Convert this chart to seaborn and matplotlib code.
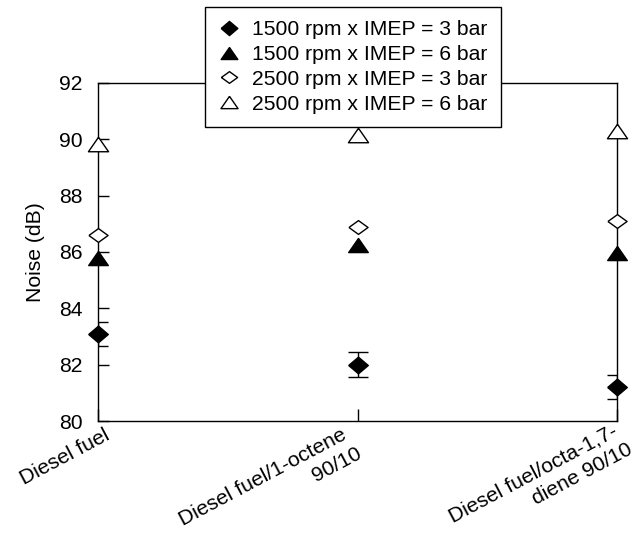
import numpy as np
import pandas as pd
import matplotlib
matplotlib.use("Agg")
import matplotlib.pyplot as plt
import seaborn as sns
from matplotlib.lines import Line2D

# ---- data ----
categories = ["Diesel fuel", "Diesel fuel/1-octene\n90/10", "Diesel fuel/octa-1,7-\ndiene 90/10"]
series_names = ["1500 rpm x IMEP = 3 bar", "1500 rpm x IMEP = 6 bar",
                "2500 rpm x IMEP = 3 bar", "2500 rpm x IMEP = 6 bar"]
noise_1500_3 = [83.1, 82.0, 81.2]
noise_1500_6 = [85.8, 86.25, 85.95]
noise_2500_3 = [86.6, 86.9, 87.1]
noise_2500_6 = [89.85, 90.15, 90.3]
err_1500_3 = [0.43, 0.44, 0.42]
yticks = [80, 82, 84, 86, 88, 90, 92]

FS = 15.2

sns.set_theme(style="white")
plt.rcParams['font.family'] = ['Liberation Sans', 'DejaVu Sans']
plt.rcParams['text.color'] = 'black'
plt.rcParams['axes.labelcolor'] = 'black'
plt.rcParams['xtick.color'] = 'black'
plt.rcParams['ytick.color'] = 'black'

fig = plt.figure(figsize=(6.43, 5.34), dpi=100)
ax = fig.add_axes([0.1524, 0.2116, 0.8072, 0.6330])

x = np.arange(len(categories))
df = pd.DataFrame({
    "x": np.tile(x, 4),
    "noise": noise_1500_3 + noise_1500_6 + noise_2500_3 + noise_2500_6,
    "series": np.repeat(series_names, len(categories)),
})

diamond_f = [(-1, 0), (0, 0.85), (1, 0), (0, -0.85), (-1, 0)]
diamond_o = [(-1, 0), (0, 0.72), (1, 0), (0, -0.72), (-1, 0)]
tri = [(0, 0.72), (-1, -0.72), (1, -0.72), (0, 0.72)]
styles = {
    series_names[0]: dict(marker=diamond_f, fc="black", s=200),
    series_names[1]: dict(marker=tri, fc="black", s=200),
    series_names[2]: dict(marker=diamond_o, fc="white", s=190),
    series_names[3]: dict(marker=tri, fc="white", s=210),
}

ax.errorbar(x, noise_1500_3, yerr=err_1500_3, fmt="none", ecolor="black",
            elinewidth=1.0, capsize=7, capthick=1.0, zorder=2)

for name in series_names:
    st = styles[name]
    sub = df[df["series"] == name]
    sns.scatterplot(data=sub, x="x", y="noise", ax=ax, marker=st["marker"],
                    s=st["s"], color=st["fc"], edgecolor="black", linewidth=1.0,
                    zorder=3, clip_on=False, legend=False)

ax.set_xlim(0, 2)
ax.set_ylim(80, 92)
ax.set_yticks(yticks)
ax.set_yticklabels([str(t) for t in yticks])
ax.set_xticks(x)
ax.set_xticklabels([])
# category labels placed individually (offsets in pixels) to match the reference
label_offsets_px = [(6, -5), (-17, -4), (-5, 0)]
line_step_px = (15, -19)   # shift of each following line (right, down)
for i, (cat, (dx, dy)) in enumerate(zip(categories, label_offsets_px)):
    for k, line in enumerate(cat.split("\n")):
        ox = dx + k * line_step_px[0]
        oy = dy + k * line_step_px[1]
        ax.annotate(line, xy=(x[i], 0), xycoords=ax.get_xaxis_transform(),
                    xytext=(ox * 0.72, oy * 0.72), textcoords="offset points",
                    rotation=28, rotation_mode="anchor", ha="right", va="top",
                    fontsize=FS, color="black", annotation_clip=False)

ax.set_xlabel("")
ax.set_ylabel("Noise (dB)", fontsize=FS, labelpad=10, color="black")

for sp in ax.spines.values():
    sp.set_color("black")
    sp.set_linewidth(1.0)
ax.tick_params(axis="y", direction="in", length=8, width=1.0, colors="black",
               labelsize=FS, left=True, right=False, pad=11)
ax.tick_params(axis="x", direction="in", length=9, width=1.0, colors="black",
               bottom=True, top=False, pad=6)
ax.grid(False)

handles = []
for name in series_names:
    st = styles[name]
    handles.append(Line2D([], [], linestyle="none", marker=st["marker"],
                          markersize=np.sqrt(st["s"]) * 0.85,
                          markerfacecolor=st["fc"], markeredgecolor="black",
                          markeredgewidth=1.0, label=name))
leg = fig.legend(handles=handles, loc="upper center", bbox_to_anchor=(0.549, 0.987),
                 frameon=True, fancybox=False, fontsize=FS, handlelength=1.0,
                 handletextpad=0.6, borderpad=0.62, labelspacing=0.28, borderaxespad=0,
                 labelcolor="black")
leg.get_frame().set_edgecolor("black")
leg.get_frame().set_linewidth(1.0)
leg.get_frame().set_alpha(1)
leg.set_zorder(10)

fig.savefig("out.png", dpi=100, facecolor="white")
